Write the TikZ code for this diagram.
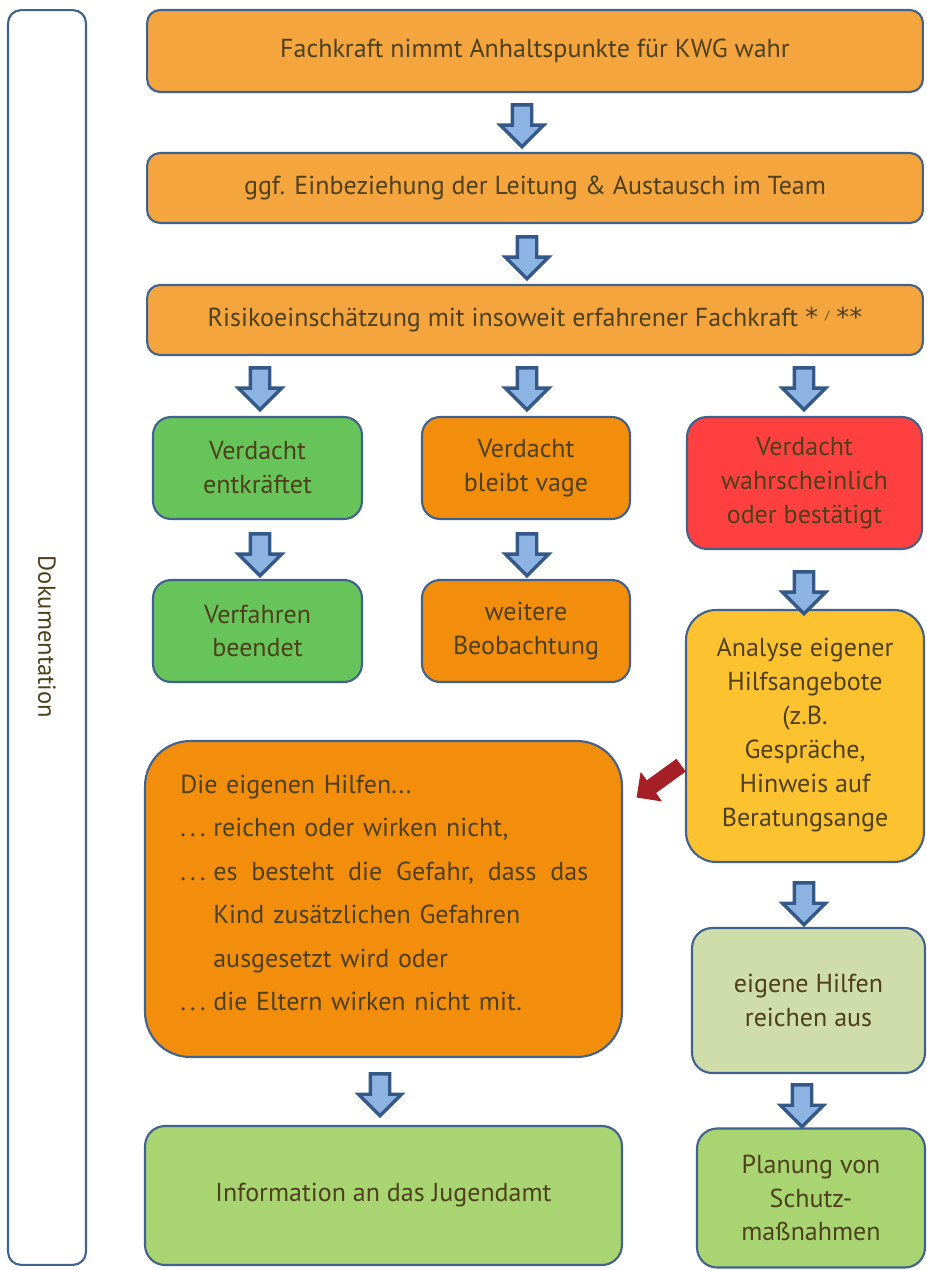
\documentclass[tikz,border=0pt]{standalone}
\usepackage{fontspec}
\setmainfont{PT Sans}
\newfontfamily\astfont{DejaVu Sans}
\usetikzlibrary{shapes.arrows}
\definecolor{bordc}{RGB}{65,98,140}
\definecolor{txtc}{RGB}{77,64,26}
\definecolor{orA}{RGB}{245,165,61}
\definecolor{orB}{RGB}{242,142,12}
\definecolor{redA}{RGB}{255,64,64}
\definecolor{grA}{RGB}{102,196,90}
\definecolor{yelA}{RGB}{253,194,47}
\definecolor{grL}{RGB}{207,221,170}
\definecolor{grB}{RGB}{168,213,114}
\definecolor{arrF}{RGB}{141,179,226}
\definecolor{arrD}{RGB}{52,88,135}
\definecolor{darkred}{RGB}{165,32,38}
\tikzset{
  box/.style={draw=bordc, line width=1.2pt, align=center, text=txtc, inner sep=0pt,
    font=\fontsize{14.8}{19.3}\selectfont},
  barrow/.style={single arrow, draw=arrD, fill=arrF, line width=1.9pt,
    shape border rotate=270, minimum height=0.84cm, single arrow head extend=0.24cm,
    inner sep=0.16cm}
}
\begin{document}
\begin{tikzpicture}[x=0.02cm,y=-0.02cm]
\useasboundingbox[fill=white] (0,0) rectangle (926,1270);
% Dokumentation
\node[box, fill=white, rounded corners=0.26cm, minimum width=1.56cm, minimum height=25.1cm] (doc) at (47,637.5) {};
\node[text=txtc, rotate=-90, font=\fontsize{14}{17}\selectfont] (doct) at (47,637) {Dokumentation};
% top boxes
\node[box, fill=orA, rounded corners=0.26cm, minimum width=15.52cm, minimum height=1.64cm] (b1) at (535,51) {Fachkraft nimmt Anhaltspunkte für KWG wahr};
\node[box, fill=orA, rounded corners=0.26cm, minimum width=15.52cm, minimum height=1.4cm] (b2) at (535,188) {ggf. Einbeziehung der Leitung \& Austausch im Team};
\node[box, fill=orA, rounded corners=0.26cm, minimum width=15.52cm, minimum height=1.4cm] (b3) at (535,320) {Risikoeinschätzung mit insoweit erfahrener Fachkraft {\astfont*} \raisebox{0.6ex}{\scriptsize /} {\astfont**}};
% row 1
\node[box, fill=grA, rounded corners=0.36cm, minimum width=4.18cm, minimum height=2.04cm] (g1) at (257.5,468) {Verdacht\\entkräftet};
\node[box, fill=orB, rounded corners=0.36cm, minimum width=4.16cm, minimum height=2.04cm] (o1) at (526,468) {Verdacht\\bleibt vage};
\node[box, fill=redA, rounded corners=0.4cm, minimum width=4.7cm, minimum height=2.64cm] (r1) at (804.5,483) {Verdacht\\wahrscheinlich\\oder bestätigt};
% row 2
\node[box, fill=grA, rounded corners=0.36cm, minimum width=4.18cm, minimum height=2.04cm] (g2) at (257.5,631) {Verfahren\\beendet};
\node[box, fill=orB, rounded corners=0.36cm, minimum width=4.16cm, minimum height=2.04cm] (o2) at (526,631) {weitere\\Beobachtung};
\node[box, fill=yelA, rounded corners=0.6cm, minimum width=4.76cm, minimum height=5.04cm] (y1) at (805,736) {};
\node[text=txtc, align=center, inner sep=0pt, font=\fontsize{14.8}{19.3}\selectfont] (y1t) at (805,735) {Analyse eigener\\Hilfsangebote\\(z.B.\\Gespräche,\\Hinweis auf\\Beratungsange};
% big box
\node[box, fill=orB, rounded corners=0.9cm, minimum width=9.54cm, minimum height=6.32cm] (big) at (383.5,899) {};
\node[text=txtc, anchor=west, text width=8.16cm, align=left, inner sep=0pt, font=\fontsize{14.8}{24.8}\selectfont] (bigt) at (180,893)
  {Die eigenen Hilfen...\\
   \makebox[0.66cm][l]{.\,.\,.}reichen oder wirken nicht,\\
   \makebox[0.66cm][l]{.\,.\,.}es\hfill besteht\hfill die\hfill Gefahr,\hfill dass\hfill das\\
   \hspace*{0.66cm}Kind zusätzlichen Gefahren\\
   \hspace*{0.66cm}ausgesetzt wird oder\\
   \makebox[0.66cm][l]{.\,.\,.}die Eltern wirken nicht mit.};
\node[box, fill=grL, rounded corners=0.4cm, minimum width=4.66cm, minimum height=2.9cm] (lg) at (808.5,1000.5) {eigene Hilfen\\reichen aus};
% bottom
\node[box, fill=grB, rounded corners=0.4cm, minimum width=9.54cm, minimum height=2.78cm] (bg1) at (383.5,1195.5) {Information an das Jugendamt};
\node[box, fill=grB, rounded corners=0.4cm, minimum width=4.56cm, minimum height=2.78cm] (bg2) at (811,1198) {Planung von\\Schutz-\\maßnahmen};
% block arrows
\node[barrow] (a1) at (522,121) {};
\node[barrow] (a2) at (527,253) {};
\node[barrow] (a3) at (260,384) {};
\node[barrow] (a4) at (527,384) {};
\node[barrow] (a5) at (804,384) {};
\node[barrow] (a6) at (260,550) {};
\node[barrow] (a7) at (527,550) {};
\node[barrow] (a8) at (804,588) {};
\node[barrow] (a9) at (804,899) {};
\node[barrow] (a10) at (380,1090) {};
\node[barrow] (a11) at (802,1101) {};
% red arrow
\node[single arrow, fill=darkred, rotate=216, minimum height=1.1cm, single arrow head extend=0.21cm, inner sep=0.15cm] (ra) at (662,779) {};
\end{tikzpicture}
\end{document}
